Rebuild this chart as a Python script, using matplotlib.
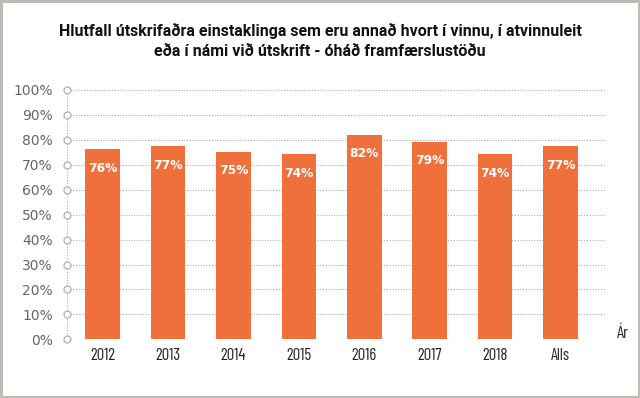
import matplotlib
matplotlib.use("Agg")
import matplotlib.pyplot as plt
import numpy as np

categories = ["2012", "2013", "2014", "2015", "2016", "2017", "2018", "Alls"]
values = [76.2, 77.4, 75.3, 74.2, 82.1, 79.3, 74.2, 77.4]
yticks = [0, 10, 20, 30, 40, 50, 60, 70, 80, 90, 100]

title = ("Hlutfall útskrifaðra einstaklinga sem eru annað hvort í vinnu, í atvinnuleit\n"
         "eða í námi við útskrift - óháð framfærslustöðu")

bar_color = "#F0703C"
grid_color = "#a8a8a8"
narrow = ["Barlow Condensed", "DejaVu Sans"]
title_font = ["Roboto", "DejaVu Sans"]
wide_font = ["DejaVu Sans"]

fig = plt.figure(figsize=(6.4, 3.98), dpi=100, facecolor="white",
                 edgecolor="#bdbdb5", linewidth=2.5)
ax = fig.add_axes([0.1042, 0.1475, 0.8422, 0.6264])

x = np.arange(len(categories))
ax.bar(x, values, width=0.53, color=bar_color, zorder=3)

for xi, v in zip(x, values):
    ax.text(xi, v - 7.5, f"{v:.0f}%", ha="center", va="center", color="white",
            fontsize=8.8, fontweight="bold", family=wide_font, zorder=4)

ax.set_xlim(-0.55, len(categories) - 1 + 0.69)
ax.set_ylim(0, 100)
ax.set_yticks(yticks)
ax.set_yticklabels([f"{t}%" for t in yticks], family=wide_font,
                   fontsize=10, color="#666666")
ax.set_xticks(x)
ax.set_xticklabels(categories, family=narrow, fontsize=12, color="#222222")
ax.tick_params(axis="both", length=0)
ax.tick_params(axis="y", pad=10)
ax.tick_params(axis="x", pad=6)

for s in ax.spines.values():
    s.set_visible(False)

for t in yticks:
    ax.axhline(t, color=grid_color, linestyle=(0, (1, 1.5)), linewidth=0.8, zorder=1)
ax.axvline(ax.get_xlim()[0], color=grid_color, linestyle=(0, (1, 1.5)),
           linewidth=0.8, zorder=1)
ax.plot([ax.get_xlim()[0]] * len(yticks), yticks, linestyle="none", marker="o",
        markersize=5, markerfacecolor="white", markeredgecolor="#b5b5b5",
        markeredgewidth=1, clip_on=False, zorder=5)

ax.text(1.031, 0.025, "Ár", transform=ax.transAxes, ha="center", va="center",
        family=narrow, fontsize=12.5, color="#222222")

fig.text(0.5, 0.897, title, ha="center", va="center", family=title_font,
         fontweight="bold", fontsize=11.5, color="#111111", linespacing=1.45)

fig.savefig("out.png", dpi=100, facecolor=fig.get_facecolor(),
            edgecolor=fig.get_edgecolor())
